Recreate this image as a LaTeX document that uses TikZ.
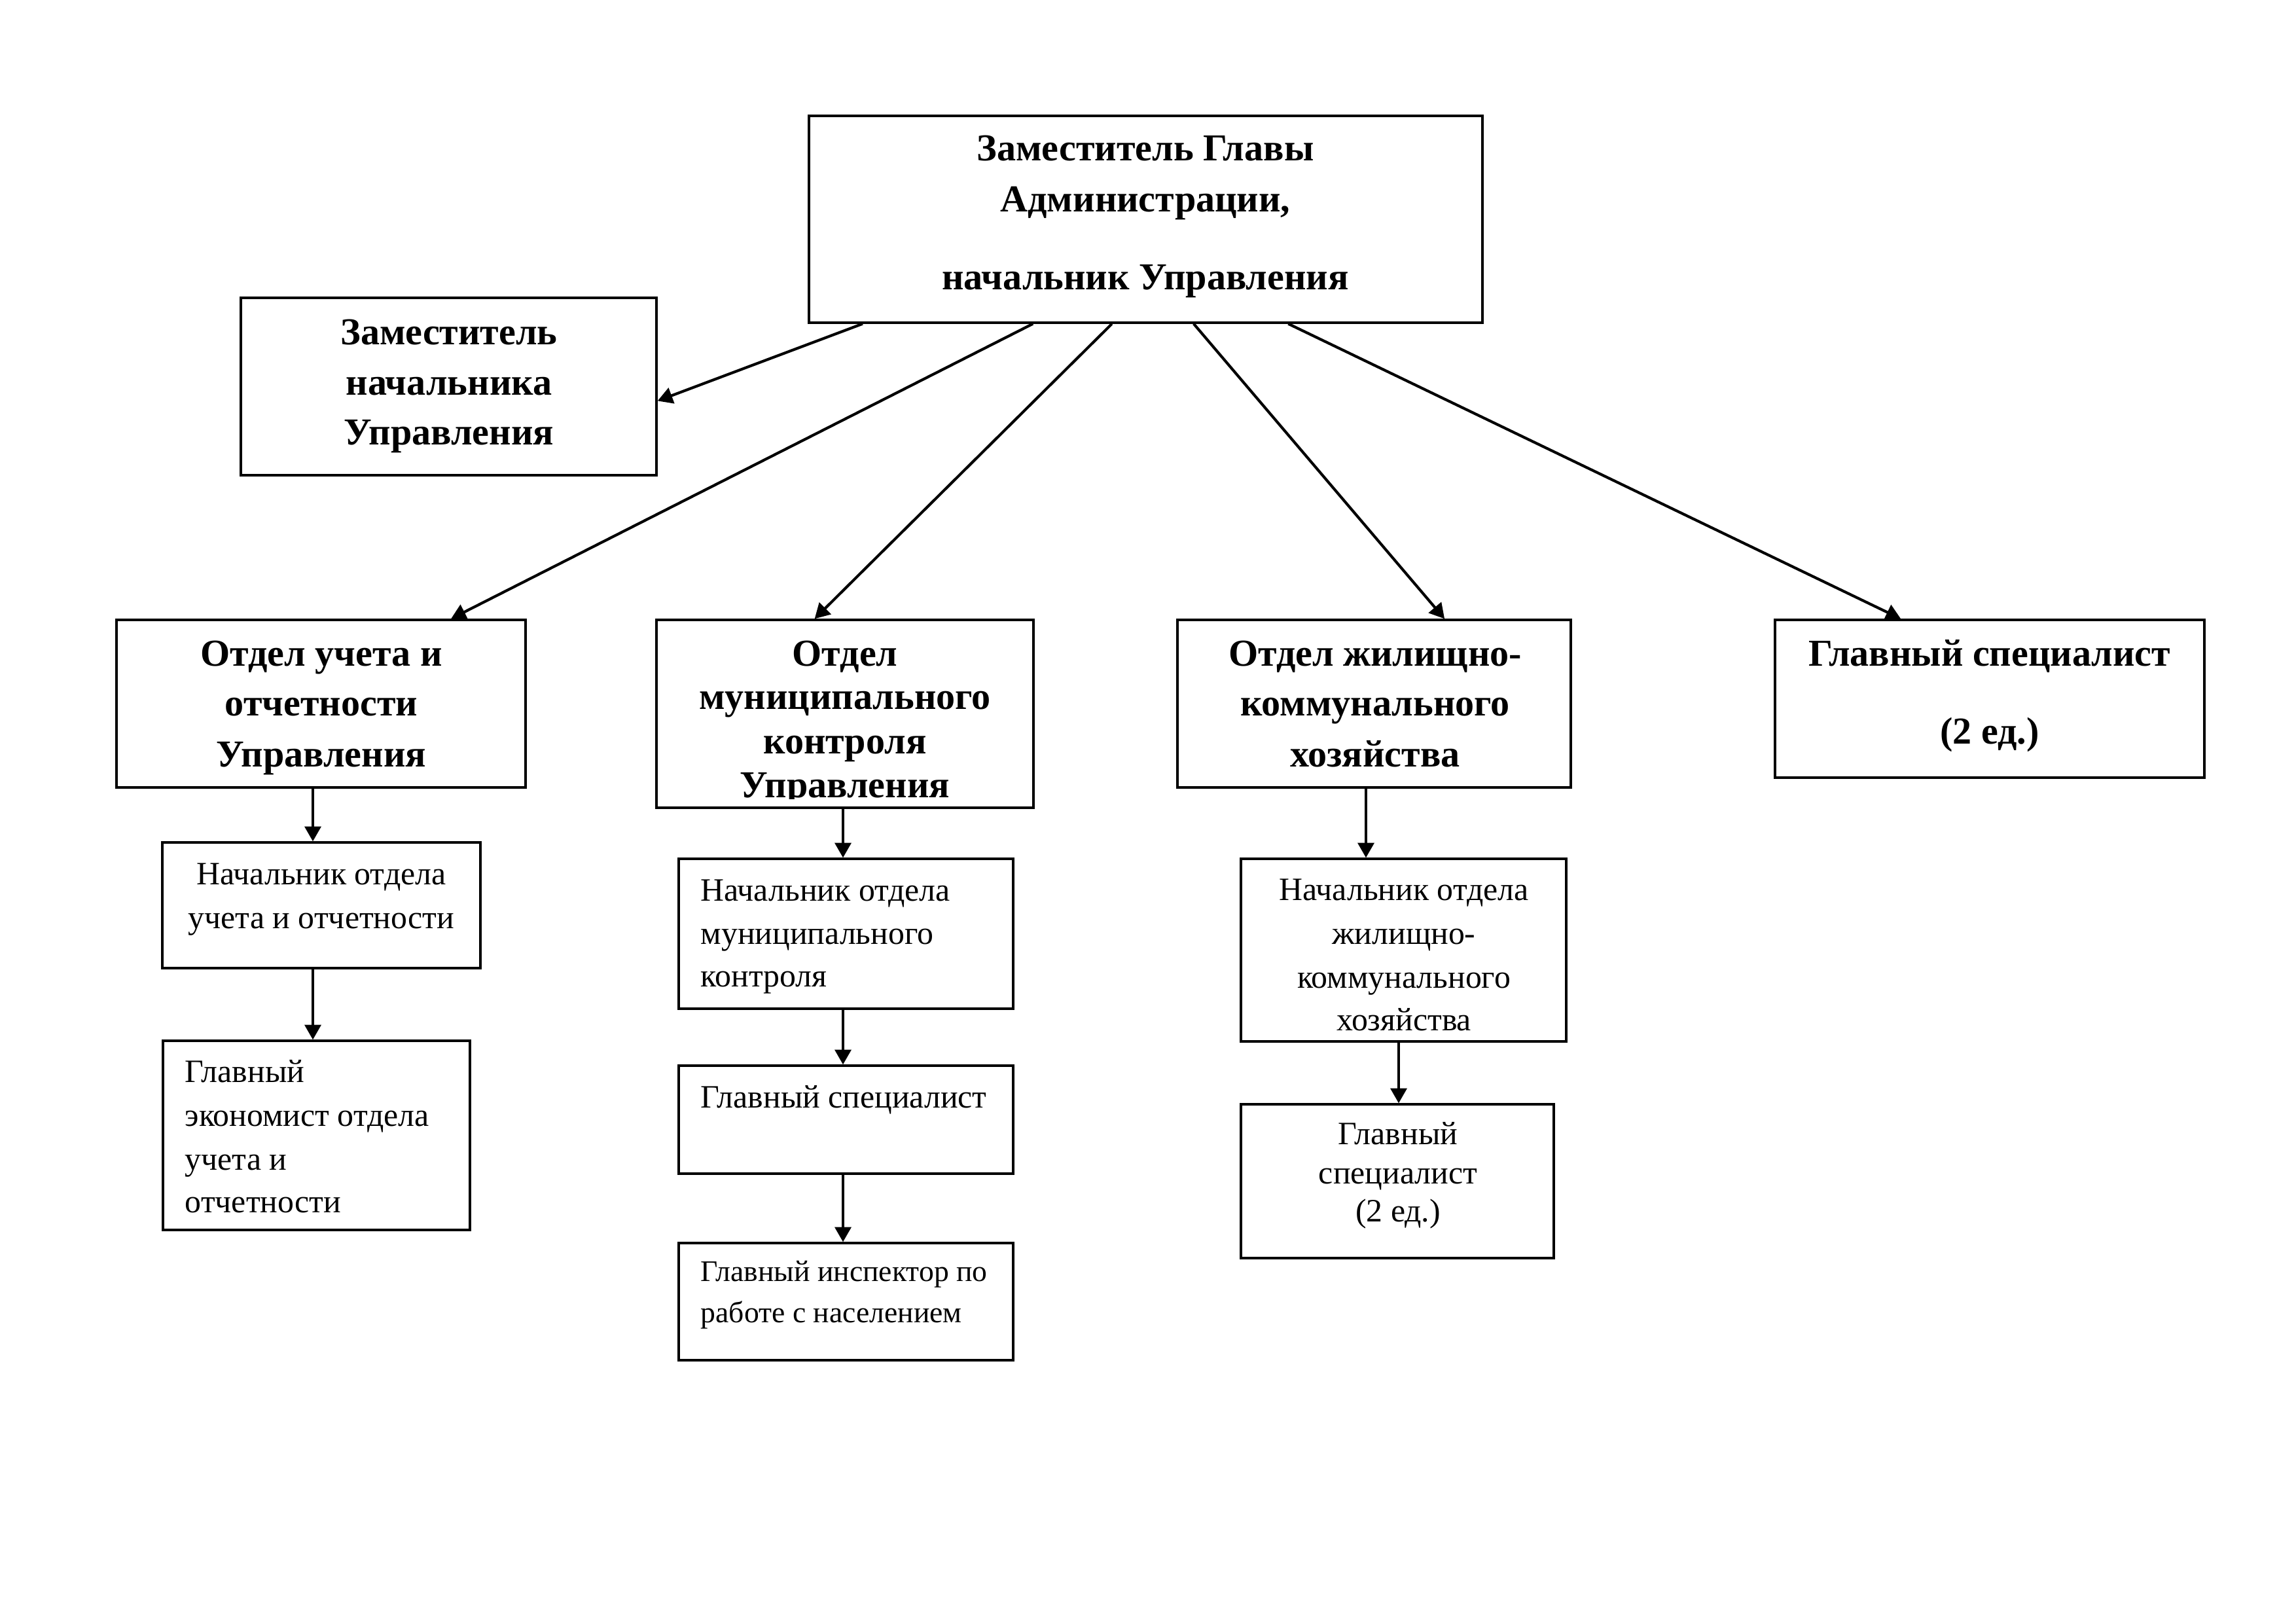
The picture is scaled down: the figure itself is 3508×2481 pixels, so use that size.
\documentclass[tikz,border=0pt]{standalone}
\usepackage{fontspec}
\setmainfont{Liberation Serif}
\usetikzlibrary{calc,fit,arrows.meta}
\tikzset{
  box/.style={draw, line width=0.8pt, inner sep=0pt},
  arr/.style={line width=1pt, -{Triangle[length=5.5pt,width=6pt]}},
  bl/.style={font=\fontsize{14}{16}\selectfont\bfseries, anchor=base, inner sep=0pt},
  rl/.style={font=\fontsize{12}{14}\selectfont, anchor=base, inner sep=0pt},
  rll/.style={rl, anchor=base west},
  sll/.style={font=\fontsize{11}{13}\selectfont, anchor=base west, inner sep=0pt}
}
\begin{document}
\begin{tikzpicture}[x=0.0846667mm, y=-0.0846667mm]
\useasboundingbox (0,0) rectangle (3508,2481);
\fill[white] (0,0) rectangle (3508,2481);

% boxes
\node[box, fit={(1236,177)(2265,493)}] (top) {};
\node[box, fit={(368,455)(1003,726)}] (dep) {};
\node[box, fit={(178,947)(803,1203)}] (ou) {};
\node[box, fit={(1003,947)(1579,1234)}] (om) {};
\node[box, fit={(1799,947)(2400,1203)}] (oz) {};
\node[box, fit={(2712,947)(3368,1188)}] (gs) {};
\node[box, fit={(248,1287)(734,1479)}] (nu) {};
\node[box, fit={(249,1590)(718,1879)}] (eu) {};
\node[box, fit={(1037,1312)(1548,1541)}] (nm) {};
\node[box, fit={(1037,1628)(1548,1793)}] (sm) {};
\node[box, fit={(1037,1899)(1548,2078)}] (im) {};
\node[box, fit={(1896,1312)(2393,1591)}] (nz) {};
\node[box, fit={(1896,1687)(2374,1922)}] (sz) {};

% texts
\node[bl] (top1) at (1750,246) {Заместитель Главы};
\node[bl] (top2) at (1750,324) {Администрации,};
\node[bl] (top3) at (1750,443) {начальник Управления};

\node[bl] (dep1) at (686,527) {Заместитель};
\node[bl] (dep2) at (686,604) {начальника};
\node[bl] (dep3) at (686,680) {Управления};

\node[bl] (ou1) at (491,1018) {Отдел учета и};
\node[bl] (ou2) at (491,1094) {отчетности};
\node[bl] (ou3) at (491,1172) {Управления};

\node[bl] (om1) at (1291,1018) {Отдел};
\node[bl] (om2) at (1291,1084) {муниципального};
\node[bl] (om3) at (1291,1152) {контроля};
\begin{scope}
  \clip (1003,947) rectangle (1579,1221);
  \node[bl] (om4) at (1291,1218) {Управления};
\end{scope}

\node[bl] (oz1) at (2101,1018) {Отдел жилищно-};
\node[bl] (oz2) at (2101,1094) {коммунального};
\node[bl] (oz3) at (2101,1172) {хозяйства};

\node[bl] (gs1) at (3040,1018) {Главный специалист};
\node[bl] (gs2) at (3040,1137) {(2 ед.)};

\node[rl] (nu1) at (491,1351) {Начальник отдела};
\node[rl] (nu2) at (491,1418) {учета и отчетности};

\node[rll] (eu1) at (282,1653) {Главный};
\node[rll] (eu2) at (282,1720) {экономист отдела};
\node[rll] (eu3) at (282,1787) {учета и};
\node[rll] (eu4) at (282,1852) {отчетности};

\node[rll] (nm1) at (1070,1376) {Начальник отдела};
\node[rll] (nm2) at (1070,1442) {муниципального};
\node[rll] (nm3) at (1070,1507) {контроля};

\node[rll] (sm1) at (1070,1692) {Главный специалист};

\node[sll] (im1) at (1070,1957) {Главный инспектор по};
\node[sll] (im2) at (1070,2020) {работе с населением};

\node[rl] (nz1) at (2145,1375) {Начальник отдела};
\node[rl] (nz2) at (2145,1442) {жилищно-};
\node[rl] (nz3) at (2145,1509) {коммунального};
\node[rl] (nz4) at (2145,1574) {хозяйства};

\node[rl] (sz1) at (2136,1748) {Главный};
\node[rl] (sz2) at (2136,1808) {специалист};
\node[rl] (sz3) at (2136,1866) {(2 ед.)};

% diagonal connectors
\draw[arr] ($(top.south west)!0.081!(top.south east)$) -- ($(dep.north east)!0.58!(dep.south east)$);
\draw[arr] ($(top.south west)!0.333!(top.south east)$) -- ($(ou.north west)!0.816!(ou.north east)$);
\draw[arr] ($(top.south west)!0.45!(top.south east)$) -- ($(om.north west)!0.42!(om.north east)$);
\draw[arr] ($(top.south west)!0.571!(top.south east)$) -- ($(oz.north west)!0.678!(oz.north east)$);
\draw[arr] ($(top.south west)!0.711!(top.south east)$) -- ($(gs.north west)!0.294!(gs.north east)$);

% vertical connectors
\coordinate (xu) at (478,0);
\coordinate (xm) at (1288,0);
\coordinate (xz1) at (2087,0);
\coordinate (xz2) at (2137,0);
\draw[arr] (ou.south -| xu) -- (nu.north -| xu);
\draw[arr] (nu.south -| xu) -- (eu.north -| xu);
\draw[arr] (om.south -| xm) -- (nm.north -| xm);
\draw[arr] (nm.south -| xm) -- (sm.north -| xm);
\draw[arr] (sm.south -| xm) -- (im.north -| xm);
\draw[arr] (oz.south -| xz1) -- (nz.north -| xz1);
\draw[arr] (nz.south -| xz2) -- (sz.north -| xz2);
\end{tikzpicture}
\end{document}
